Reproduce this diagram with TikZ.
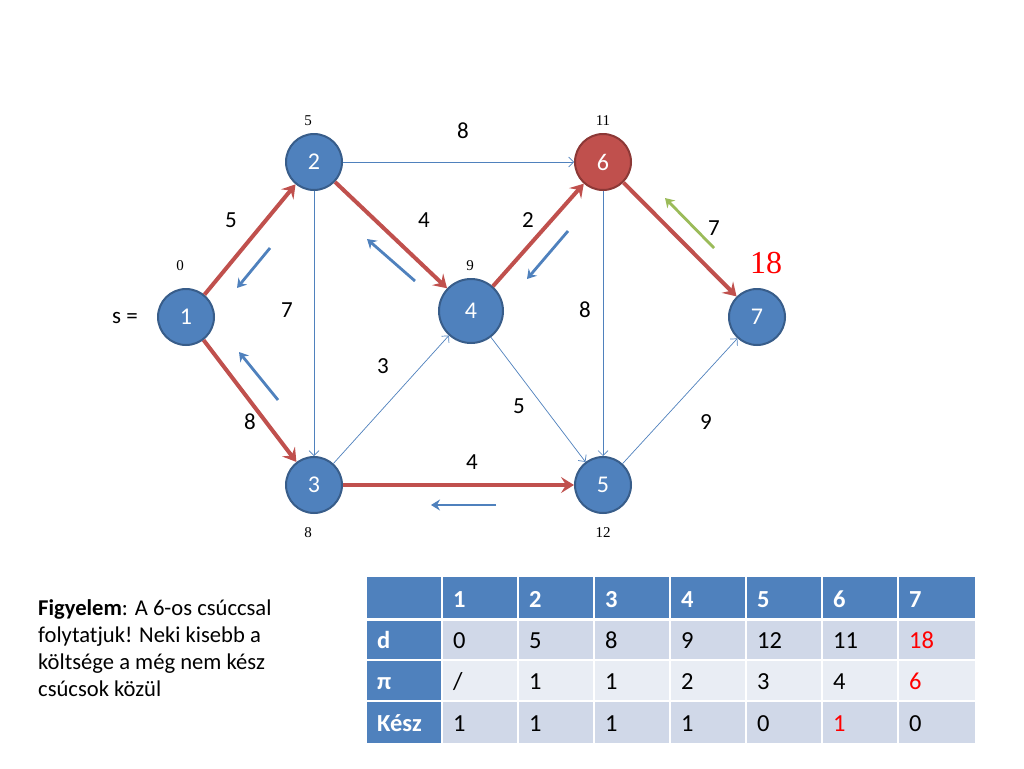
\documentclass[tikz,border=0pt]{standalone}
\usepackage{fontspec}
\setmainfont{Carlito}
\newfontfamily\serifnum{Liberation Serif}
\usetikzlibrary{arrows.meta}
\definecolor{nblue}{HTML}{4F81BD}
\definecolor{nblueD}{HTML}{385D8A}
\definecolor{nred}{HTML}{C0504D}
\definecolor{nredD}{HTML}{8C3836}
\definecolor{ngreen}{HTML}{9BBB59}
\definecolor{rowA}{HTML}{D0D8E8}
\definecolor{rowB}{HTML}{E9EDF4}
\definecolor{tred}{HTML}{FF0000}
\tikzset{
  vtx/.style={circle,fill=nblue,draw=nblueD,line width=2pt,minimum size=56pt,inner sep=0pt,text=white,font=\fontsize{24}{26}\selectfont},
  vtxbig/.style={vtx,minimum size=64pt},
  vtxred/.style={vtx,fill=nred,draw=nredD},
  redE/.style={draw=nred,line width=4pt,-{Stealth[length=13pt,width=16pt,inset=5pt]}},
  thinE/.style={draw=nblue,line width=0.7pt,-{Straight Barb[length=5pt,width=10pt]}},
  backA/.style={draw=nblue,line width=2.8pt,-{Stealth[length=9pt,width=11pt,inset=3pt]}},
  greenA/.style={draw=ngreen,line width=2.8pt,-{Stealth[length=9pt,width=11pt,inset=3pt]}},
  wt/.style={font=\fontsize{23}{25}\selectfont,inner sep=0pt},
  dist/.style={font=\serifnum\fontsize{15}{17}\selectfont,inner sep=0pt},
  cell/.style={anchor=base west,inner sep=0pt,font=\fontsize{24.5}{26}\selectfont},
  hcell/.style={cell,text=white,font=\bfseries\fontsize{24.5}{26}\selectfont},
}
\begin{document}
\begin{tikzpicture}[x=1pt,y=-1pt]
\useasboundingbox (0,0) rectangle (1024,768);
\fill[white] (0,0) rectangle (1024,768);

% vertices
\node[vtx] (n1) at (186,317) {1};
\node[vtx] (n2) at (314,162) {2};
\node[vtx] (n3) at (314,485) {3};
\node[vtxbig] (n4) at (471,311) {4};
\node[vtx] (n5) at (603,485) {5};
\node[vtxred] (n6) at (603,162) {6};
\node[vtx] (n7) at (757,317) {7};

% thin edges
\draw[thinE] (n2) -- (n6);
\draw[thinE] (n2) -- (n3);
\draw[thinE] (n3) -- (n4);
\draw[thinE] (n4) -- (n5);
\draw[thinE] (n6) -- (n5);
\draw[thinE] (n5) -- (n7);

% red edges
\draw[redE] (n1) -- (n2);
\draw[redE] (n1) -- (n3);
\draw[redE] (n2) -- (n4);
\draw[redE] (n4) -- (n6);
\draw[redE] (n6) -- (n7);
\draw[redE] (n3) -- (n5);

% back arrows
\coordinate (b1s) at (270,248); \coordinate (b1e) at (237,288);
\coordinate (b2s) at (278,400); \coordinate (b2e) at (239,352);
\coordinate (b3s) at (415,281); \coordinate (b3e) at (367,239);
\coordinate (b4s) at (568,231); \coordinate (b4e) at (527,279);
\coordinate (b5s) at (496,505); \coordinate (b5e) at (431,505);
\coordinate (g1s) at (714,248); \coordinate (g1e) at (665,198);
\draw[backA] (b1s) -- (b1e);
\draw[backA] (b2s) -- (b2e);
\draw[backA] (b3s) -- (b3e);
\draw[backA] (b4s) -- (b4e);
\draw[backA] (b5s) -- (b5e);
\draw[greenA] (g1s) -- (g1e);

% weights
\node[wt] (w26) at (463,131) {8};
\node[wt] (w12) at (231,220) {5};
\node[wt] (w24) at (424,220) {4};
\node[wt] (w46) at (528,220) {2};
\node[wt] (w67) at (714,228) {7};
\node[wt] (w23) at (287,310) {7};
\node[wt] (w65) at (585,310) {8};
\node[wt] (w34) at (383,366) {3};
\node[wt] (w45) at (519,406) {5};
\node[wt] (w57) at (706,422) {9};
\node[wt] (w13) at (250,422) {8};
\node[wt] (w35) at (472,462) {4};
\node[wt] (slab) at (125,318) {s =};

% distances
\node[dist] (d2) at (308,121) {5};
\node[dist] (d6) at (603,121) {11};
\node[dist] (d1) at (180,266) {0};
\node[dist] (d4) at (470,266) {9};
\node[dist] (d3) at (308,533) {8};
\node[dist] (d5) at (603,533) {12};
\node[font=\serifnum\fontsize{32}{34}\selectfont,text=tred,inner sep=0pt] (d7) at (766,263) {18};

% note
\node[anchor=north west,inner sep=0pt,align=left,font=\fontsize{22.6}{27}\selectfont] (note) at (38,599)
  {\textbf{Figyelem}: A 6-os csúccsal\\folytatjuk! Neki kisebb a\\költsége a még nem kész\\csúcsok közül};

% table
\def\xs{{367,442,518,594,670,746,822,898,975}}
\def\ys{{577,619,660,701,743}}
\foreach \r in {0,...,3}{
  \foreach \c in {0,...,7}{
    \pgfmathsetmacro\xa{\xs[\c]}
    \pgfmathsetmacro\xb{\xs[\c+1]}
    \pgfmathsetmacro\ya{\ys[\r]}
    \pgfmathsetmacro\yb{\ys[\r+1]}
    \pgfmathsetmacro\fillc{(\r==0 || \c==0) ? 1 : (mod(\r,2)==1 ? 2 : 3)}
    \ifcase\fillc\or
      \fill[nblue] (\xa,\ya) rectangle (\xb,\yb);
    \or
      \fill[rowA] (\xa,\ya) rectangle (\xb,\yb);
    \or
      \fill[rowB] (\xa,\ya) rectangle (\xb,\yb);
    \fi
  }
}
\foreach \x in {442,518,594,670,746,822,898}{\draw[white,line width=1.5pt] (\x,577) -- (\x,743);}
\draw[white,line width=3pt] (367,619) -- (975,619);
\foreach \y in {660,701}{\draw[white,line width=1.5pt] (367,\y) -- (975,\y);}

\foreach \t [count=\i from 1] in {1,2,3,4,5,6,7}{
  \pgfmathsetmacro\xa{\xs[\i]+11}
  \node[hcell] (h\i) at (\xa,607.5) {\t};
}
\node[hcell] (rd) at (377,648) {d};
\node[hcell] (rp) at (377,689) {π};
\node[hcell] (rk) at (377,731) {Kész};
\foreach \t [count=\i from 1] in {0,5,8,9,12,11,{\textcolor{tred}{18}}}{
  \pgfmathsetmacro\xa{\xs[\i]+11}
  \node[cell] (dv\i) at (\xa,648) {\t};
}
\foreach \t [count=\i from 1] in {/,1,1,2,3,4,{\textcolor{tred}{6}}}{
  \pgfmathsetmacro\xa{\xs[\i]+11}
  \node[cell] (pv\i) at (\xa,689) {\t};
}
\foreach \t [count=\i from 1] in {1,1,1,1,0,{\textcolor{tred}{1}},0}{
  \pgfmathsetmacro\xa{\xs[\i]+11}
  \node[cell] (kv\i) at (\xa,731) {\t};
}
\end{tikzpicture}
\end{document}
